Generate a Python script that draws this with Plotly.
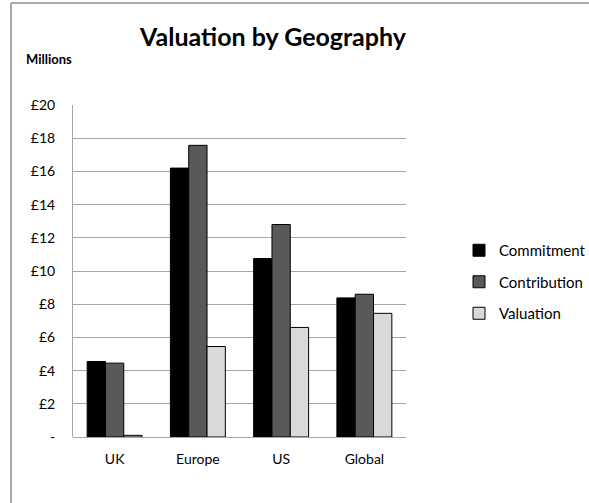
import plotly.graph_objects as go

categories = ['UK', 'Europe', 'US', 'Global']
commitment = [4.55, 16.2, 10.75, 8.38]
contribution = [4.45, 17.57, 12.8, 8.6]
valuation = [0.1, 5.45, 6.6, 7.45]

tick_vals = [0, 2, 4, 6, 8, 10, 12, 14, 16, 18, 20]
tick_text = ['-', '£2', '£4', '£6', '£8', '£10', '£12', '£14', '£16', '£18', '£20']

series = [
    ('Commitment', commitment, '#000000'),
    ('Contribution', contribution, '#595959'),
    ('Valuation', valuation, '#d9d9d9'),
]

FONT = 'Lato'

fig = go.Figure()
for name, values, color in series:
    fig.add_trace(go.Bar(
        x=categories,
        y=values,
        name=name,
        legendgroup=name,
        marker=dict(color=color, line=dict(color='#000000', width=1)),
    ))

# chart area border (Excel style): only top and left edges are inside the window
def px_x(v):
    return (v - 73) / 333

def px_y(v):
    return (437 - v) / 332

border = dict(color='#8c8c8c', width=1.5)
fig.add_shape(type='line', xref='paper', yref='paper',
              x0=px_x(11), x1=px_x(595), y0=px_y(3), y1=px_y(3), line=border)
fig.add_shape(type='line', xref='paper', yref='paper',
              x0=px_x(11), x1=px_x(11), y0=px_y(3), y1=px_y(510), line=border)

fig.add_annotation(
    text='<b>Millions</b>', xref='paper', yref='paper',
    x=px_x(24), y=px_y(59),
    xanchor='left', yanchor='middle', showarrow=False,
    font=dict(family=FONT, size=13, color='#000000'),
)

fig.update_layout(
    width=589,
    height=503,
    margin=dict(l=73, r=183, t=105, b=66, autoexpand=False),
    paper_bgcolor='white',
    plot_bgcolor='white',
    barmode='group',
    bargap=0.34,
    bargroupgap=0,
    title=dict(
        text='<b>Valuation by Geography</b>',
        x=273 / 589, xanchor='center',
        y=1 - 37 / 503, yanchor='middle',
        font=dict(family=FONT, size=25, color='#000000'),
    ),
    font=dict(family=FONT, size=13, color='#000000'),
    legend=dict(
        x=px_x(459), xanchor='left',
        y=px_y(234), yanchor='top',
        font=dict(family=FONT, size=15),
        tracegroupgap=9,
        traceorder='grouped',
        bgcolor='rgba(0,0,0,0)',
    ),
    xaxis=dict(
        showgrid=False,
        showline=False,
        ticks='',
        ticklabelstandoff=12,
        tickfont=dict(family=FONT, size=14),
    ),
    yaxis=dict(
        range=[0, 20],
        tickvals=tick_vals,
        ticktext=tick_text,
        showgrid=True,
        gridcolor='#a6a6a6',
        gridwidth=1,
        zeroline=True,
        zerolinecolor='#a6a6a6',
        zerolinewidth=1,
        showline=True,
        linecolor='#a6a6a6',
        linewidth=1,
        ticks='',
        ticklabelstandoff=14,
        tickfont=dict(family=FONT, size=14),
    ),
)

# page body has a default 8px margin; drop it so the figure sits at the window origin
fig.write_html('out.html', config={'displayModeBar': False},
               post_script="document.body.style.margin='0';")
